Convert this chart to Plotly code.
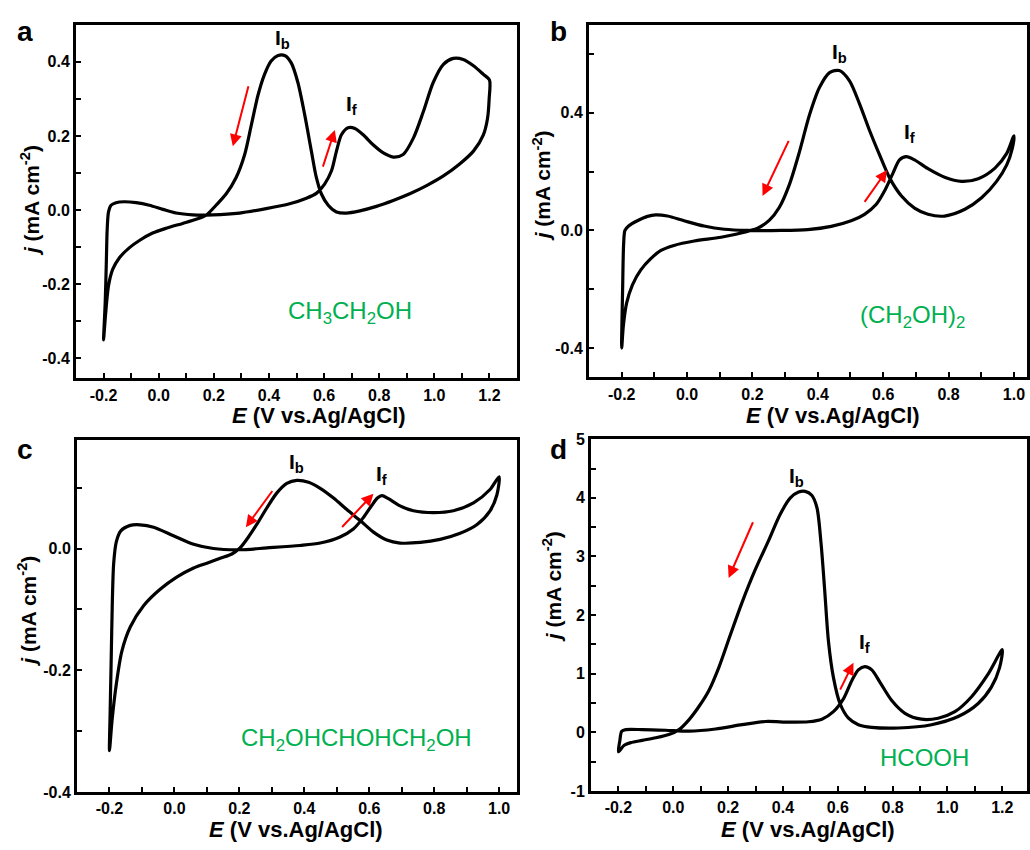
import plotly.graph_objects as go

# ---------------- data ----------------
# Panel a: CH3CH2OH
Ea_fwd = [-0.2, -0.194, -0.190, -0.187, -0.182, -0.173, -0.155, -0.125, -0.082, -0.034, 0.015, 0.063,
          0.124, 0.196, 0.293, 0.390, 0.475, 0.536, 0.572, 0.602, 0.627, 0.645, 0.663, 0.687, 0.712,
          0.742, 0.778, 0.815, 0.851, 0.887, 0.924, 0.960, 0.996, 1.033, 1.069, 1.105, 1.142, 1.178, 1.2]
ja_fwd = [-0.350, -0.248, -0.142, -0.054, -0.005, 0.013, 0.020, 0.0225, 0.020, 0.013, 0.002, -0.008,
          -0.013, -0.013, -0.008, 0.004, 0.017, 0.032, 0.045, 0.070, 0.106, 0.159, 0.203, 0.222, 0.220,
          0.203, 0.176, 0.154, 0.143, 0.150, 0.194, 0.265, 0.344, 0.393, 0.409, 0.406, 0.389, 0.366, 0.351]
Ea_bwd = [1.199, 1.193, 1.178, 1.142, 1.093, 1.033, 0.972, 0.911, 0.851, 0.790, 0.730, 0.681, 0.645,
          0.615, 0.590, 0.572, 0.554, 0.530, 0.505, 0.481, 0.457, 0.433, 0.408, 0.384, 0.360, 0.336,
          0.312, 0.281, 0.245, 0.208, 0.172, 0.136, 0.087, 0.027, -0.022, -0.070, -0.107, -0.143,
          -0.167, -0.182, -0.192, -0.2]
ja_bwd = [0.300, 0.247, 0.203, 0.159, 0.125, 0.092, 0.066, 0.044, 0.026, 0.010, -0.002, -0.008, -0.005,
          0.013, 0.044, 0.088, 0.159, 0.256, 0.344, 0.397, 0.417, 0.417, 0.402, 0.366, 0.309, 0.229,
          0.150, 0.088, 0.044, 0.013, -0.014, -0.025, -0.036, -0.049, -0.062, -0.082, -0.102, -0.129,
          -0.160, -0.204, -0.275, -0.350]

# Panel b: (CH2OH)2
Eb_fwd = [-0.2, -0.197, -0.194, -0.190, -0.178, -0.152, -0.121, -0.096, -0.060, -0.009, 0.052, 0.114,
          0.185, 0.288, 0.369, 0.441, 0.502, 0.543, 0.579, 0.604, 0.630, 0.650, 0.671, 0.696, 0.737,
          0.788, 0.840, 0.891, 0.942, 0.978, 1.0]
jb_fwd = [-0.400, -0.191, -0.045, 0.0, 0.016, 0.033, 0.048, 0.053, 0.049, 0.033, 0.015, 0.004,
          0.0, 0.0, 0.003, 0.014, 0.033, 0.055, 0.089, 0.134, 0.195, 0.240, 0.251, 0.240, 0.210,
          0.181, 0.167, 0.176, 0.212, 0.262, 0.322]
Eb_bwd = [0.995, 0.978, 0.947, 0.901, 0.850, 0.788, 0.737, 0.696, 0.656, 0.620, 0.589, 0.558, 0.528,
          0.497, 0.466, 0.436, 0.405, 0.374, 0.344, 0.313, 0.282, 0.252, 0.216, 0.175, 0.104, 0.022,
          -0.040, -0.080, -0.111, -0.142, -0.167, -0.185, -0.195, -0.2]
jb_bwd = [0.279, 0.223, 0.167, 0.111, 0.072, 0.049, 0.055, 0.076, 0.117, 0.178, 0.257, 0.341, 0.430,
          0.509, 0.544, 0.537, 0.486, 0.391, 0.268, 0.156, 0.078, 0.035, 0.008, -0.006, -0.023, -0.036,
          -0.051, -0.068, -0.096, -0.135, -0.185, -0.247, -0.325, -0.400]

# Panel c: CH2OHCHOHCH2OH
Ec_fwd = [-0.2, -0.198, -0.195, -0.191, -0.187, -0.179, -0.165, -0.136, -0.106, -0.064, -0.003, 0.059,
          0.120, 0.202, 0.285, 0.387, 0.449, 0.510, 0.551, 0.582, 0.608, 0.625, 0.639, 0.659, 0.695,
          0.736, 0.798, 0.859, 0.921, 0.972, 1.0]
jc_fwd = [-0.332, -0.271, -0.190, -0.083, -0.024, 0.011, 0.029, 0.038, 0.039, 0.035, 0.021, 0.007,
          0.0, -0.002, 0.001, 0.005, 0.009, 0.019, 0.032, 0.051, 0.071, 0.083, 0.087, 0.082, 0.070,
          0.062, 0.059, 0.062, 0.075, 0.097, 0.118]
Ec_bwd = [0.993, 0.972, 0.931, 0.880, 0.818, 0.757, 0.695, 0.654, 0.613, 0.572, 0.531, 0.490, 0.449,
          0.413, 0.377, 0.346, 0.315, 0.285, 0.254, 0.228, 0.202, 0.177, 0.141, 0.100, 0.059, 0.007,
          -0.044, -0.095, -0.136, -0.162, -0.179, -0.192, -0.2]
jc_bwd = [0.088, 0.062, 0.039, 0.025, 0.015, 0.010, 0.009, 0.014, 0.027, 0.046, 0.064, 0.083, 0.099,
          0.109, 0.112, 0.107, 0.091, 0.067, 0.040, 0.019, 0.001, -0.009, -0.016, -0.024, -0.032, -0.047,
          -0.067, -0.094, -0.129, -0.169, -0.223, -0.282, -0.332]

# Panel d: HCOOH
Ed_fwd = [-0.2, -0.195, -0.188, -0.173, -0.113, -0.028, 0.057, 0.154, 0.251, 0.336, 0.421, 0.493,
          0.542, 0.584, 0.621, 0.651, 0.675, 0.699, 0.724, 0.754, 0.796, 0.845, 0.905, 0.966, 1.027,
          1.087, 1.148, 1.2]
jd_fwd = [-0.331, -0.147, 0.020, 0.047, 0.047, 0.036, 0.020, 0.058, 0.131, 0.186, 0.175, 0.181,
          0.225, 0.353, 0.576, 0.882, 1.066, 1.121, 1.066, 0.854, 0.548, 0.326, 0.225, 0.242, 0.353,
          0.604, 0.993, 1.411]
Ed_bwd = [1.190, 1.160, 1.112, 1.039, 0.942, 0.821, 0.724, 0.675, 0.639, 0.608, 0.584, 0.566, 0.552,
          0.539, 0.524, 0.505, 0.481, 0.457, 0.427, 0.390, 0.348, 0.299, 0.251, 0.208, 0.166, 0.130,
          0.093, 0.057, 0.021, -0.016, -0.064, -0.113, -0.155, -0.179, -0.2]
jd_bwd = [1.105, 0.771, 0.493, 0.270, 0.131, 0.075, 0.086, 0.131, 0.242, 0.493, 0.938, 1.550, 2.440,
          3.219, 3.831, 4.043, 4.110, 4.098, 3.998, 3.720, 3.275, 2.774, 2.218, 1.661, 1.105, 0.715,
          0.437, 0.214, 0.047, -0.036, -0.092, -0.136, -0.175, -0.220, -0.331]

# Tick labels
x_ticks_12 = [-0.2, 0.0, 0.2, 0.4, 0.6, 0.8, 1.0, 1.2]
x_ticks_12_text = ["-0.2", "0.0", "0.2", "0.4", "0.6", "0.8", "1.0", "1.2"]
x_ticks_10 = [-0.2, 0.0, 0.2, 0.4, 0.6, 0.8, 1.0]
x_ticks_10_text = ["-0.2", "0.0", "0.2", "0.4", "0.6", "0.8", "1.0"]
ya_ticks = [-0.4, -0.2, 0.0, 0.2, 0.4]
ya_text = ["-0.4", "-0.2", "0.0", "0.2", "0.4"]
yb_ticks = [-0.4, 0.0, 0.4]
yb_text = ["-0.4", "0.0", "0.4"]
yc_ticks = [-0.4, -0.2, 0.0]
yc_text = ["-0.4", "-0.2", "0.0"]
yd_ticks = [-1, 0, 1, 2, 3, 4, 5]
yd_text = ["-1", "0", "1", "2", "3", "4", "5"]

# Arrow annotations (tail E, tail j, head E, head j): backward-scan and forward-scan arrows
arrows_a = [(0.327, 0.338, 0.269, 0.172), (0.594, 0.113, 0.639, 0.216)]
arrows_b = [(0.313, 0.310, 0.231, 0.117), (0.540, 0.092, 0.612, 0.206)]
arrows_c = [(0.305, 0.097, 0.220, 0.035), (0.512, 0.033, 0.613, 0.090)]
arrows_d = [(0.293, 3.609, 0.202, 2.635), (0.606, 0.704, 0.657, 1.188)]

# Peak label positions (E, j)
Ib_pos = [(0.451, 0.462), (0.466, 0.604), (0.377, 0.140), (0.451, 4.35)]
If_pos = [(0.699, 0.284), (0.681, 0.333), (0.639, 0.120), (0.699, 1.52)]

# Compound labels
compounds = ["CH<sub>3</sub>CH<sub>2</sub>OH", "(CH<sub>2</sub>OH)<sub>2</sub>",
             "CH<sub>2</sub>OHCHOHCH<sub>2</sub>OH", "HCOOH"]
compound_pos = [(0.693, -0.275), (0.691, -0.291), (0.560, -0.314), (0.918, -0.426)]
panel_letters = ["a", "b", "c", "d"]

# ---------------- figure ----------------
W, H = 1030, 850
FONT = "Liberation Sans, Arial, sans-serif"
GREEN = "#00B050"

# pixel boxes of the four plot areas: (left, top, right, bottom)
boxes = [(76, 17, 517, 378), (589, 17, 1027, 377), (77, 441, 517, 800), (591, 440, 1027, 799)]
xranges = [[-0.3, 1.3], [-0.3, 1.04], [-0.3, 1.055], [-0.3, 1.29]]
yranges = [[-0.454, 0.5], [-0.5, 0.7], [-0.4, 0.178], [-1, 5]]
xt = [(x_ticks_12, x_ticks_12_text), (x_ticks_10, x_ticks_10_text),
      (x_ticks_10, x_ticks_10_text), (x_ticks_12, x_ticks_12_text)]
yt = [(ya_ticks, ya_text, 0.1), (yb_ticks, yb_text, 0.2), (yc_ticks, yc_text, 0.1), (yd_ticks, yd_text, 0.5)]

curves = [(Ea_fwd + Ea_bwd, ja_fwd + ja_bwd), (Eb_fwd + Eb_bwd, jb_fwd + jb_bwd),
          (Ec_fwd + Ec_bwd, jc_fwd + jc_bwd), (Ed_fwd + Ed_bwd, jd_fwd + jd_bwd)]
arrows = [arrows_a, arrows_b, arrows_c, arrows_d]

fig = go.Figure()
annotations = []
layout = {}

xtitle_pos = [(319, 416), (833, 416), (296, 838), (808, 838)]
ytitle_pos = [(30, 197), (542, 182), (27, 616), (552, 591)]
letter_pos = [(25, 24), (558, 24), (25, 451), (558, 451)]


def bold(labels):
    return ["<b>" + s + "</b>" for s in labels]


for i in range(4):
    n = "" if i == 0 else str(i + 1)
    xa, ya = "x" + n, "y" + n
    l, t, r, b = boxes[i]
    common = dict(showline=True, linecolor="black", linewidth=3, mirror=True,
                  ticks="inside", ticklen=5, tickwidth=2, tickcolor="black",
                  showgrid=False, zeroline=False,
                  tickfont=dict(family=FONT, size=16, color="black"))
    layout["xaxis" + n] = dict(domain=[l / W, r / W], range=xranges[i], anchor=ya,
                               tickmode="array", tickvals=xt[i][0], ticktext=bold(xt[i][1]),
                               ticklabelstandoff=0,
                               minor=dict(tickmode="linear", tick0=0, dtick=0.1, ticks="inside",
                                          ticklen=5, tickwidth=2, tickcolor="black"),
                               **common)
    layout["yaxis" + n] = dict(domain=[1 - b / H, 1 - t / H], range=yranges[i], anchor=xa,
                               tickmode="array", tickvals=yt[i][0], ticktext=bold(yt[i][1]),
                               ticklabelstandoff=0,
                               minor=dict(tickmode="linear", tick0=0, dtick=yt[i][2], ticks="inside",
                                          ticklen=5, tickwidth=2, tickcolor="black"),
                               **common)
    E, j = curves[i]
    fig.add_trace(go.Scatter(x=E, y=j, mode="lines", xaxis=xa, yaxis=ya,
                             line=dict(color="black", width=3.2, shape="spline", smoothing=0.8),
                             showlegend=False, hoverinfo="skip"))
    for (x0, y0, x1, y1) in arrows[i]:
        annotations.append(dict(x=x1, y=y1, ax=x0, ay=y0, xref=xa, yref=ya, axref=xa, ayref=ya,
                                showarrow=True, arrowhead=2, arrowsize=1.2, arrowwidth=2,
                                arrowcolor="#FF0000", text=""))
    annotations.append(dict(x=Ib_pos[i][0], y=Ib_pos[i][1], xref=xa, yref=ya, showarrow=False,
                            xanchor="center", yanchor="middle",
                            text="<b>I<sub>b</sub></b>",
                            font=dict(family=FONT, size=21, color="black")))
    annotations.append(dict(x=If_pos[i][0], y=If_pos[i][1], xref=xa, yref=ya, showarrow=False,
                            xanchor="center", yanchor="middle",
                            text="<b>I<sub>f</sub></b>",
                            font=dict(family=FONT, size=21, color="black")))
    annotations.append(dict(x=compound_pos[i][0], y=compound_pos[i][1], xref=xa, yref=ya,
                            xanchor="center", yanchor="middle",
                            showarrow=False, text=compounds[i],
                            font=dict(family=FONT, size=24, color=GREEN)))
    # axis titles
    annotations.append(dict(x=xtitle_pos[i][0] / W, y=1 - xtitle_pos[i][1] / H, xref="paper", yref="paper",
                            xanchor="center", yanchor="middle",
                            showarrow=False, text="<b><i>E</i> (V vs.Ag/AgCl)</b>",
                            font=dict(family=FONT, size=22, color="black")))
    annotations.append(dict(x=ytitle_pos[i][0] / W, y=1 - ytitle_pos[i][1] / H, xref="paper", yref="paper",
                            xanchor="center", yanchor="middle",
                            showarrow=False, textangle=-90,
                            text="<b><i>j</i> (mA cm<sup>-2</sup>)</b>",
                            font=dict(family=FONT, size=21, color="black")))
    annotations.append(dict(x=letter_pos[i][0] / W, y=1 - letter_pos[i][1] / H, xref="paper", yref="paper",
                            xanchor="center", yanchor="middle",
                            showarrow=False, text="<b>" + panel_letters[i] + "</b>",
                            font=dict(family=FONT, size=28, color="black")))

fig.update_layout(width=W, height=H, margin=dict(l=0, r=0, t=0, b=0),
                  paper_bgcolor="white", plot_bgcolor="white",
                  annotations=annotations, **layout)
fig.write_html("out.html")
